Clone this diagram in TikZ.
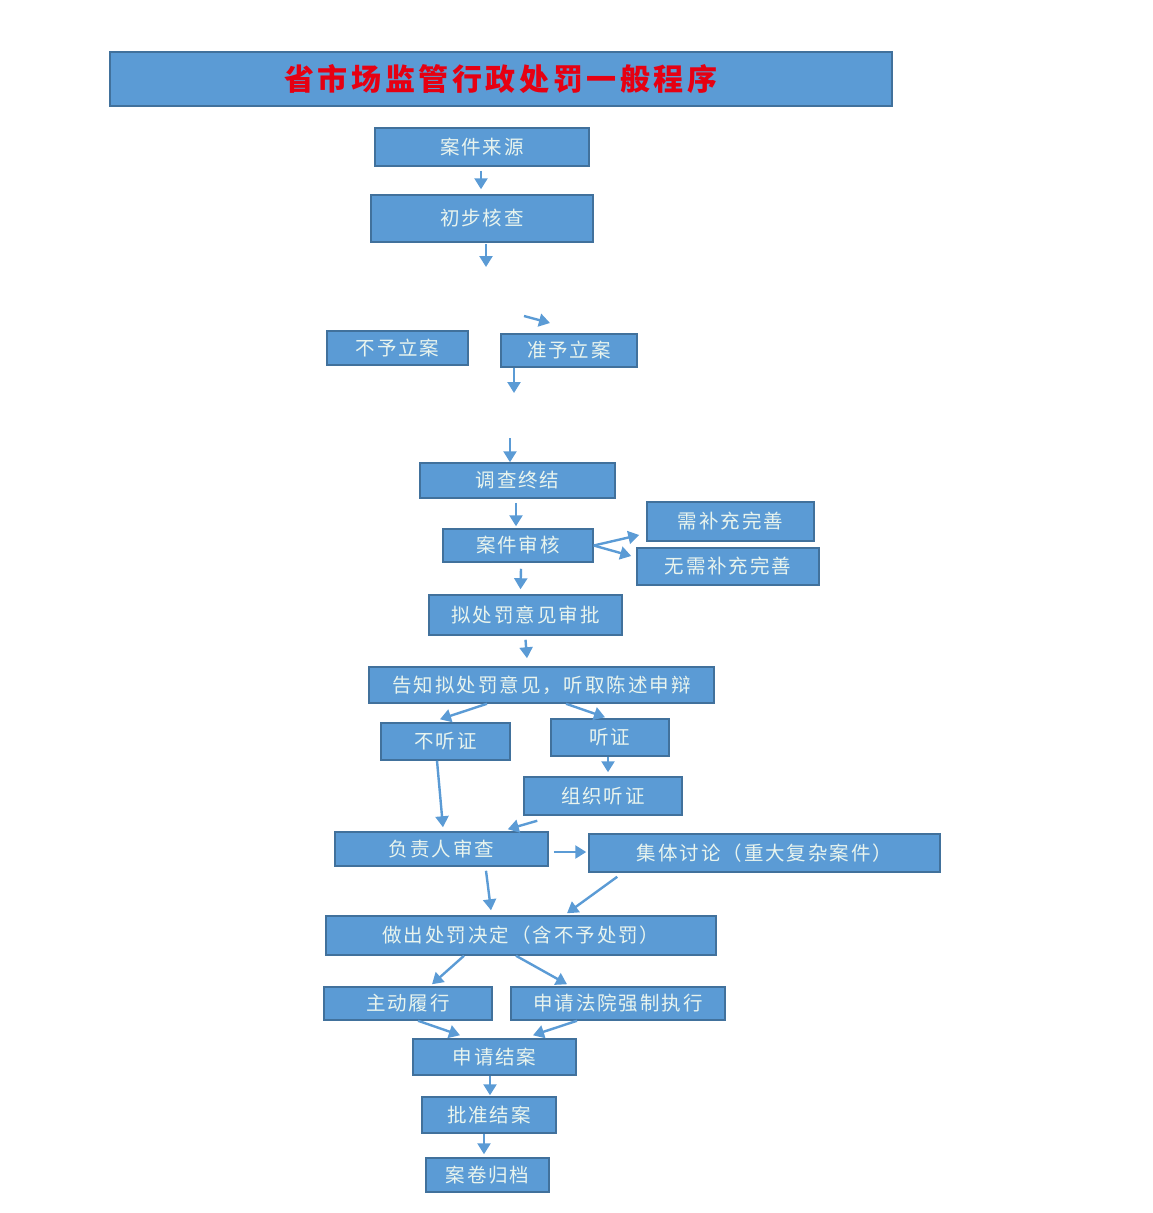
\documentclass[tikz,border=0pt]{standalone}
\usepackage{fontspec}
\setmainfont{Noto Sans CJK SC}
\usetikzlibrary{arrows.meta,calc}
\definecolor{boxfill}{HTML}{5B9BD5}
\definecolor{boxline}{HTML}{41719C}
\definecolor{boxtext}{HTML}{E8F4EE}
\definecolor{titlered}{HTML}{E60012}
\begin{document}
\begin{tikzpicture}[x=1pt,y=-1pt,
    box/.style={draw=boxline,fill=boxfill,line width=1.5pt,text=boxtext,inner sep=0pt,
                font=\fontsize{19.5}{22}\selectfont\addfontfeatures{LetterSpace=10}},
    flow/.style={-{Triangle[length=11pt,width=13pt]},line width=2.4pt,boxfill}]
            \useasboundingbox (0,0) rectangle (1152,1213);

            % title
            \node[box,minimum width=782,minimum height=54,text=titlered,
                  font=\fontsize{30}{36}\selectfont\bfseries\addfontfeatures{LetterSpace=12}]
                (title) at (501,79) {\raisebox{-4pt}{省市场监管行政处罚一般程序}};

            \node[box,minimum width=214,minimum height=38] (source) at (482,147) {案件来源};
            \node[box,minimum width=222,minimum height=47] (check) at (482,218.5) {初步核查};
            \node[box,minimum width=141,minimum height=34] (noreg) at (397.5,348) {不予立案};
            \node[box,minimum width=136,minimum height=33] (reg) at (569,350.5) {准予立案};
            \node[box,minimum width=195,minimum height=35] (endinv) at (517.5,480.5) {调查终结};
            \node[box,minimum width=150,minimum height=33] (review) at (518,545.5) {案件审核};
            \node[box,minimum width=167,minimum height=39] (need) at (730.5,521.5) {需补充完善};
            \node[box,minimum width=182,minimum height=37] (noneed) at (728,566.5) {无需补充完善};
            \node[box,minimum width=193,minimum height=40] (approve) at (525.5,615) {拟处罚意见审批};
            \node[box,minimum width=345,minimum height=36] (notify) at (541.5,685) {告知拟处罚意见，听取陈述申辩};
            \node[box,minimum width=129,minimum height=37] (nohear) at (445.5,741.5) {不听证};
            \node[box,minimum width=118,minimum height=37] (hear) at (610,737.5) {听证};
            \node[box,minimum width=158,minimum height=38] (orghear) at (603,796) {组织听证};
            \node[box,minimum width=213,minimum height=34] (head) at (441.5,849) {负责人审查};
            \node[box,minimum width=351,minimum height=38] (group) at (764.5,853) {集体讨论（重大复杂案件）};
            \node[box,minimum width=390,minimum height=39] (decide) at (521,935.5) {做出处罚决定（含不予处罚）};
            \node[box,minimum width=168,minimum height=33] (self) at (408,1003.5) {主动履行};
            \node[box,minimum width=214,minimum height=33] (court) at (618,1003.5) {申请法院强制执行};
            \node[box,minimum width=163,minimum height=36] (apply) at (494.5,1057) {申请结案};
            \node[box,minimum width=134,minimum height=36] (grant) at (489,1115) {批准结案};
            \node[box,minimum width=123,minimum height=34] (archive) at (487.5,1175) {案卷归档};

            % loose arrows
            \coordinate (c1) at (486,267);
            \coordinate (c2) at (524,316);
            \coordinate (c3) at (550,323);
            \coordinate (c4) at (514,393);
            \coordinate (c5) at (510,438);

            \draw[flow] ($(source.south)+(-1,4)$) -- ($(check.north)+(-1,-5)$);
            \draw[flow] ($(check.south)+(4,1)$) -- (c1);
            \draw[flow] (c2) -- (c3);
            \draw[flow] ($(reg.south)+(-55,0)$) -- (c4);
            \draw[flow] (c5) -- ($(endinv.north)+(-7.5,0)$);

            \draw[flow] ($(endinv.south)+(-1.5,4)$) -- ($(review.north)+(-2,-2)$);
            \draw[flow] (review.east) -- ($(need.west)+(-7,13.5)$);
            \draw[flow] (review.east) -- ($(noneed.west)+(-5,-10.5)$);
            \draw[flow] ($(review.south)+(3,6)$) -- ($(approve.north)+(-5,-5)$);
            \draw[flow] ($(approve.south)+(0,4)$) -- ($(notify.north)+(-14.5,-8)$);

            \draw[flow] ($(notify.south)+(-54.5,0)$) -- ($(nohear.north)+(-5.5,-3)$);
            \draw[flow] ($(notify.south)+(24.5,0)$) -- ($(hear.north)+(-5,-1)$);
            \draw[flow] ($(hear.south)+(-2,0)$) -- ($(orghear.north)+(5,-4)$);
            \draw[flow] ($(nohear.south)+(-8.5,0)$) -- ($(head.north)+(1.5,-4)$);
            \draw[flow] ($(orghear.south west)+(14,5)$) -- ($(head.north east)+(-41,-2)$);
            \draw[flow] ($(head.east)+(5,3)$) -- ($(group.west)+(-2,-1)$);

            \draw[flow] ($(head.south)+(44.5,4)$) -- ($(decide.north)+(-30,-5)$);
            \draw[flow] ($(group.south west)+(29,4)$) -- ($(decide.north)+(46,-2)$);
            \draw[flow] ($(decide.south)+(-57,0)$) -- ($(self.north)+(24,-2)$);
            \draw[flow] ($(decide.south)+(-5,0)$) -- ($(court.north)+(-51,-2)$);
            \draw[flow] ($(self.south)+(10,0)$) -- ($(apply.north)+(-34.5,-3)$);
            \draw[flow] ($(court.south)+(-41,0)$) -- ($(apply.north)+(38.5,-3)$);
            \draw[flow] ($(apply.south)+(-4.5,0)$) -- ($(grant.north)+(1,-1)$);
            \draw[flow] ($(grant.south)+(-5,0)$) -- ($(archive.north)+(-3.5,-3)$);
        \end{tikzpicture}
\end{document}
